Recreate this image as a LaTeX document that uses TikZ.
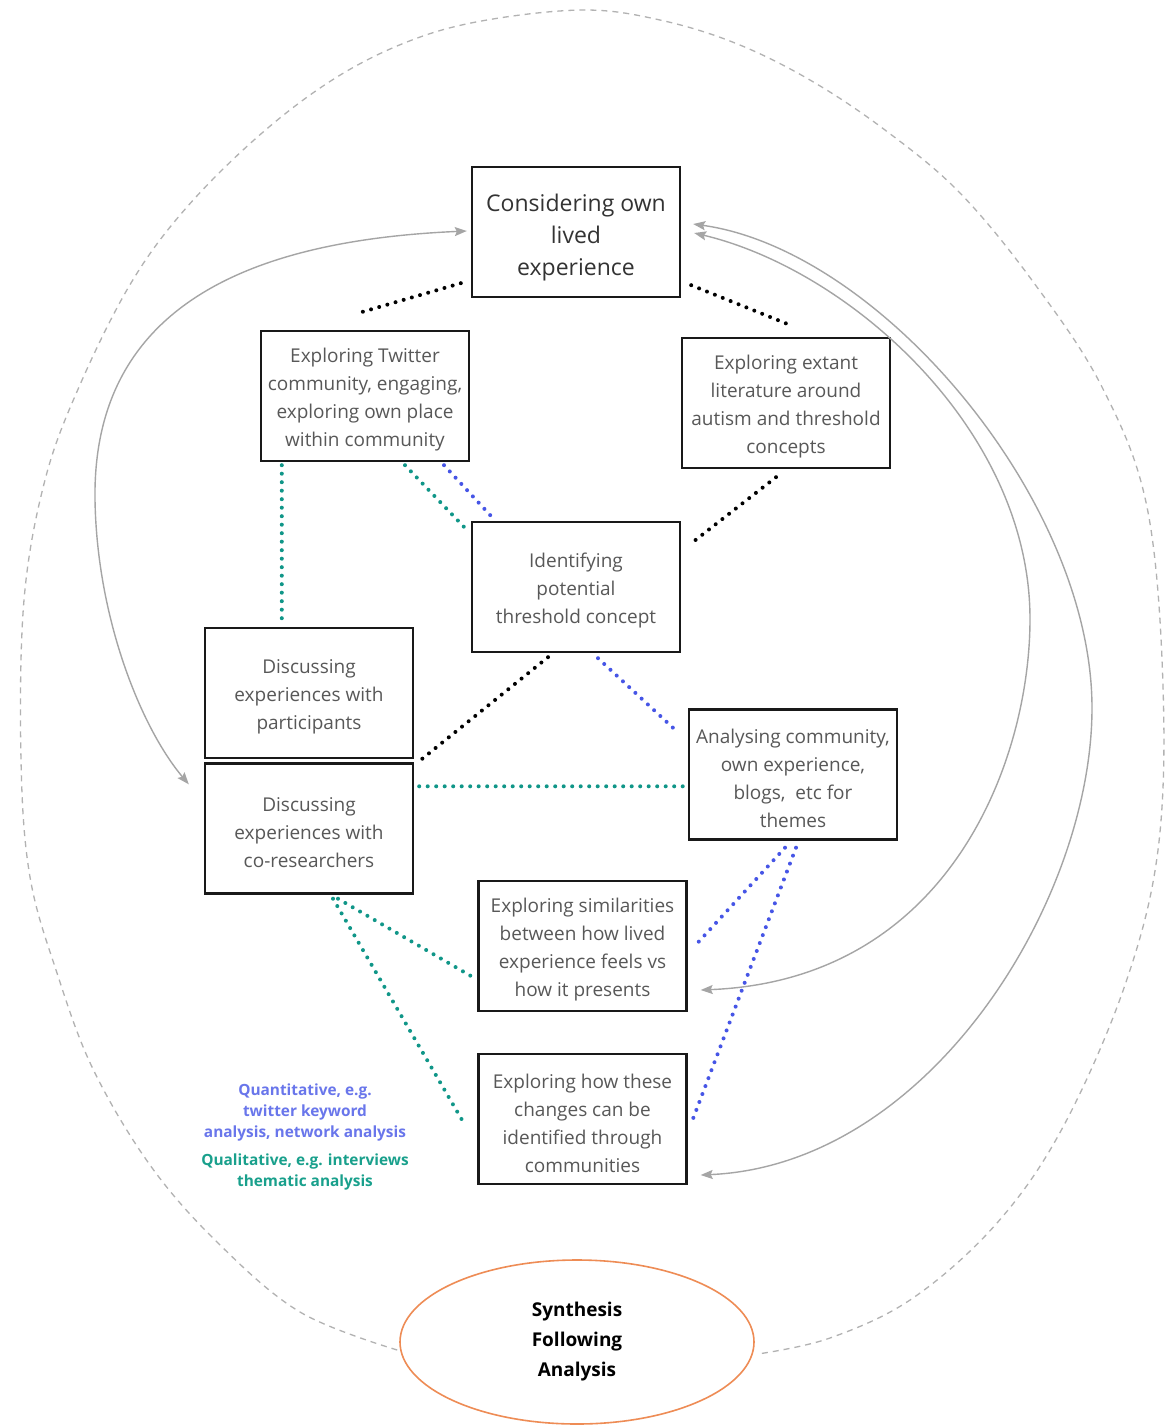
\documentclass[tikz,border=0pt]{standalone}
\usepackage{fontspec}
\setmainfont{Open Sans}
\usetikzlibrary{shapes.geometric,arrows.meta,calc}

\definecolor{dotteal}{RGB}{16,150,136}
\definecolor{dotblue}{RGB}{70,85,230}
\definecolor{labblue}{RGB}{105,118,235}
\definecolor{labteal}{RGB}{25,160,140}
\definecolor{linkgray}{RGB}{165,165,165}
\definecolor{loopgray}{RGB}{178,178,178}
\definecolor{synorange}{RGB}{238,140,85}
\definecolor{boxtext}{RGB}{88,88,88}

% struts that give the first line of a box some extra head room
\newcommand{\boxstrut}{\rule{0pt}{22.4pt}}
\newcommand{\headstrut}{\rule{0pt}{29.5pt}}

\begin{document}
\begin{tikzpicture}[x=1pt,y=-1pt,
  stagebox/.style={draw=black!90, line width=2.4pt, minimum width=208pt,
    minimum height=130pt, inner sep=0pt, align=center, text=boxtext,
    font=\fontsize{19}{28}\selectfont},
  dotlink/.style={line width=4pt, line cap=round, dash pattern=on 0pt off 8.5pt},
  blackdots/.style={dotlink, draw=black},
  tealdots/.style={dotlink, draw=dotteal},
  bluedots/.style={dotlink, draw=dotblue},
  arr/.style={draw=linkgray, line width=1.4pt,
    {Stealth[length=12pt,width=9pt,inset=2pt]}-{Stealth[length=12pt,width=9pt,inset=2pt]}},
  loop/.style={draw=loopgray, line width=1.3pt, dash pattern=on 6pt off 5pt},
  note/.style={align=center, font=\fontsize{15.4}{21}\selectfont\bfseries}
]
\useasboundingbox[fill=white] (0,0) rectangle (1171,1425);

% stage boxes
\node[stagebox, text=black!80, font=\fontsize{23}{32}\selectfont] (cons) at (576,232)
  {\headstrut Considering own\\lived\\experience};
\node[stagebox] (tw) at (365,396)
  {\boxstrut Exploring Twitter\\community, engaging,\\exploring own place\\within community};
\node[stagebox] (lit) at (786,403)
  {\boxstrut Exploring extant\\literature around\\autism and threshold\\concepts};
\node[stagebox] (id) at (576,587)
  {\boxstrut Identifying\\potential\\threshold concept};
\node[stagebox] (part) at (309,693)
  {\boxstrut Discussing\\experiences with\\participants};
\node[stagebox] (co) at (309,828.5)
  {\boxstrut Discussing\\experiences with\\co-researchers};
\node[stagebox] (ana) at (793,774.5)
  {\boxstrut Analysing community,\\own experience,\\blogs,~ etc for\\themes};
\node[stagebox] (sim) at (582.5,946)
  {\boxstrut Exploring similarities\\between how lived\\experience feels vs\\how it presents};
\node[stagebox] (how) at (582.5,1119)
  {\boxstrut Exploring how these\\changes can be\\identified through\\communities};

% synthesis
\node[ellipse, draw=synorange, line width=1.6pt, minimum width=354pt,
  minimum height=164pt, align=center, font=\fontsize{19}{30}\selectfont\bfseries]
  (syn) at (577,1342) {Synthesis\\Following\\Analysis};

% legend
\node[note, text=labblue] (quant) at (305,1112)
  {Quantitative, e.g.\\twitter keyword\\analysis, network analysis};
\node[note, text=labteal] (qual) at (305,1172)
  {Qualitative, e.g. interviews\\thematic analysis};

% black dotted links
\draw[blackdots] ($(cons.south west)+(-10,-15)$) -- ($(tw.north west)+(96,-16)$);
\draw[blackdots] ($(cons.south east)+(10,-13)$) -- ($(lit.north)+(6,-11)$);
\draw[blackdots] ($(lit.south)+(-10,8)$) -- ($(id.north east)+(12,21)$);
\draw[blackdots] ($(id.south)+(-28,4)$) -- ($(part.south east)+(5,2)$);

% teal dotted links
\draw[tealdots] ($(tw.south west)+(22,3)$) -- ($(part.north west)+(78,-8)$);
\draw[tealdots] ($(tw.south)+(40,3)$) -- ($(id.north west)+(-5,8)$);
\draw[tealdots] ($(co.north east)+(5,24)$) -- ($(ana.north west)+(-4,78)$);
\draw[tealdots] ($(co.south)+(29,4)$) -- ($(sim.north west)+(-5,97)$);
\draw[tealdots] ($(co.south)+(24,4)$) -- ($(how.north west)+(-13,71)$);

% blue dotted links
\draw[bluedots] ($(tw.south)+(79,3)$) -- ($(id.north west)+(20,-5)$);
\draw[bluedots] ($(id.south)+(22,5)$) -- ($(ana.north west)+(-11,23)$);
\draw[bluedots] ($(ana.south)+(-8,7)$) -- ($(sim.north east)+(10,63)$);
\draw[bluedots] ($(ana.south)+(3,7)$) -- ($(how.north east)+(3,72)$);

% feedback arrows
\coordinate (a1) at ($(cons.west)+(-4,-1)$);
\coordinate (a1b) at ($(co.north west)+(-15,22)$);
\draw[arr] (a1) .. controls (260,240) and (92,300) .. (95,500)
  .. controls (97,620) and (142,729) .. (a1b);

\coordinate (a2) at ($(cons.east)+(13,1)$);
\coordinate (a2b) at ($(sim.east)+(13,44)$);
\draw[arr] (a2) .. controls (850,270) and (1030,430) .. (1030,619)
  .. controls (1030,760) and (950,980) .. (a2b);

\coordinate (a3) at ($(cons.east)+(12,-8)$);
\coordinate (a3b) at ($(how.east)+(13,56)$);
\draw[arr] (a3) .. controls (880,250) and (1092,500) .. (1092,708)
  .. controls (1092,900) and (930,1165) .. (a3b);

% outer dashed loop
\coordinate (lw) at ($(syn.west)+(-2,8)$);
\coordinate (le) at ($(syn.east)+(3,12)$);
\draw[loop] plot[smooth, tension=0.6] coordinates {
  (lw) (300,1312) (217,1242) (150,1165) (93,1069) (57,973) (30,877)
  (21,760) (24,600) (45,480) (79,387) (131,283) (187,207) (262,133)
  (337,77) (412,40) (487,20) (585,10) (660,20) (735,43) (810,80)
  (885,130) (960,193) (1034,283) (1102,387) (1147,507) (1163,686)
  (1158,850) (1125,985) (1063,1127) (997,1223) (913,1298) (830,1338) (le)};
\end{tikzpicture}
\end{document}
